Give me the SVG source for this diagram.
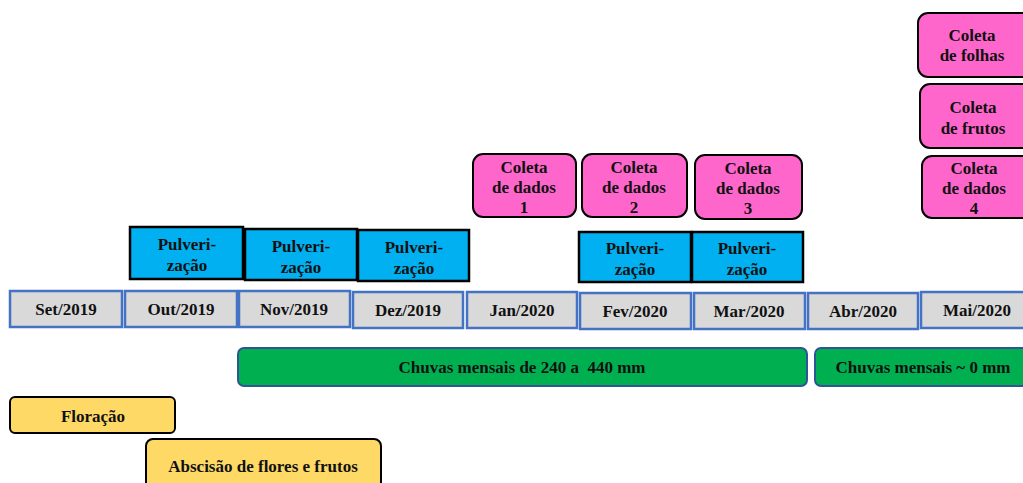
<svg xmlns="http://www.w3.org/2000/svg" width="1023" height="483" viewBox="0 0 1023 483">
<style>
text{font-weight:bold;font-size:17px;fill:#111;text-anchor:middle;white-space:pre}
.m{fill:#D9D9D9;stroke:#4472C4;stroke-width:2.5}
.p{fill:#00B0F0;stroke:#000;stroke-width:2.5}
.c{fill:#FF66CC;stroke:#000;stroke-width:2}
.g{fill:#00B050;stroke:#2F5597;stroke-width:2}
.y{fill:#FFD966;stroke:#000;stroke-width:2}
</style>
<rect width="1023" height="483" fill="#fff"/>
<g id="connectors"/>
<g font-family="Liberation Serif, DejaVu Serif, serif">
<g id="months">
<g id="m-set"><rect class="m" x="10" y="291" width="112" height="36"/><text x="66" y="315">Set/2019</text></g>
<g id="m-out"><rect class="m" x="125" y="291" width="112" height="36"/><text x="181" y="315">Out/2019</text></g>
<g id="m-nov"><rect class="m" x="239" y="291" width="111" height="36"/><text x="294" y="315">Nov/2019</text></g>
<g id="m-dez"><rect class="m" x="353" y="292" width="110" height="36"/><text x="408" y="316">Dez/2019</text></g>
<g id="m-jan"><rect class="m" x="467" y="292" width="110" height="36"/><text x="522" y="316">Jan/2020</text></g>
<g id="m-fev"><rect class="m" x="580" y="293" width="111" height="36"/><text x="635" y="317">Fev/2020</text></g>
<g id="m-mar"><rect class="m" x="694" y="293" width="111" height="36"/><text x="749" y="317">Mar/2020</text></g>
<g id="m-abr"><rect class="m" x="808" y="293" width="110" height="36"/><text x="863" y="317">Abr/2020</text></g>
<g id="m-mai"><rect class="m" x="921" y="292" width="110" height="36"/><text x="977" y="316">Mai/2020</text></g>
</g>
<g id="pulverizacao">
<g id="p-out"><rect class="p" x="130" y="227" width="113" height="52"/><text x="187" y="250">Pulveri-</text><text x="187" y="271">zação</text></g>
<g id="p-nov"><rect class="p" x="245" y="229" width="112" height="51"/><text x="301" y="252">Pulveri-</text><text x="301" y="273">zação</text></g>
<g id="p-dez"><rect class="p" x="358" y="230" width="111" height="51"/><text x="414" y="253">Pulveri-</text><text x="414" y="274">zação</text></g>
<g id="p-fev"><rect class="p" x="579" y="232" width="112" height="50"/><text x="635" y="254">Pulveri-</text><text x="635" y="275">zação</text></g>
<g id="p-mar"><rect class="p" x="692" y="232" width="111" height="50"/><text x="747" y="254">Pulveri-</text><text x="747" y="275">zação</text></g>
</g>
<g id="coletas">
<g id="c1"><rect class="c" x="473" y="154" width="103" height="63" rx="10"/><text x="524" y="173">Coleta</text><text x="524" y="193">de dados</text><text x="524" y="213">1</text></g>
<g id="c2"><rect class="c" x="582" y="154" width="105" height="63" rx="10"/><text x="634" y="173">Coleta</text><text x="634" y="193">de dados</text><text x="634" y="213">2</text></g>
<g id="c3"><rect class="c" x="695" y="155" width="107" height="64" rx="10"/><text x="748" y="174">Coleta</text><text x="748" y="194">de dados</text><text x="748" y="214">3</text></g>
<g id="c4"><rect class="c" x="922" y="156" width="110" height="62" rx="10"/><text x="974" y="174">Coleta</text><text x="974" y="194">de dados</text><text x="974" y="214">4</text></g>
<g id="c-frutos"><rect class="c" x="920" y="84" width="112" height="64" rx="10"/><text x="973" y="113">Coleta</text><text x="973" y="134">de frutos</text></g>
<g id="c-folhas"><rect class="c" x="918" y="13" width="114" height="64" rx="10"/><text x="972" y="41">Coleta</text><text x="972" y="61">de folhas</text></g>
</g>
<g id="chuvas">
<g id="ch1"><rect class="g" x="238" y="348" width="569" height="38" rx="6"/><text x="522" y="373">Chuvas mensais de 240 a  440 mm</text></g>
<g id="ch2"><rect class="g" x="815" y="348" width="216" height="38" rx="6"/><text x="923" y="373">Chuvas mensais ~ 0 mm</text></g>
</g>
<g id="floracao"><rect class="y" x="10" y="397" width="165" height="36" rx="5"/><text x="93" y="422">Floração</text></g>
<g id="abscisao"><rect class="y" x="146" y="439" width="235" height="50" rx="7"/><text x="263" y="472">Abscisão de flores e frutos</text></g>
</g>
</svg>
